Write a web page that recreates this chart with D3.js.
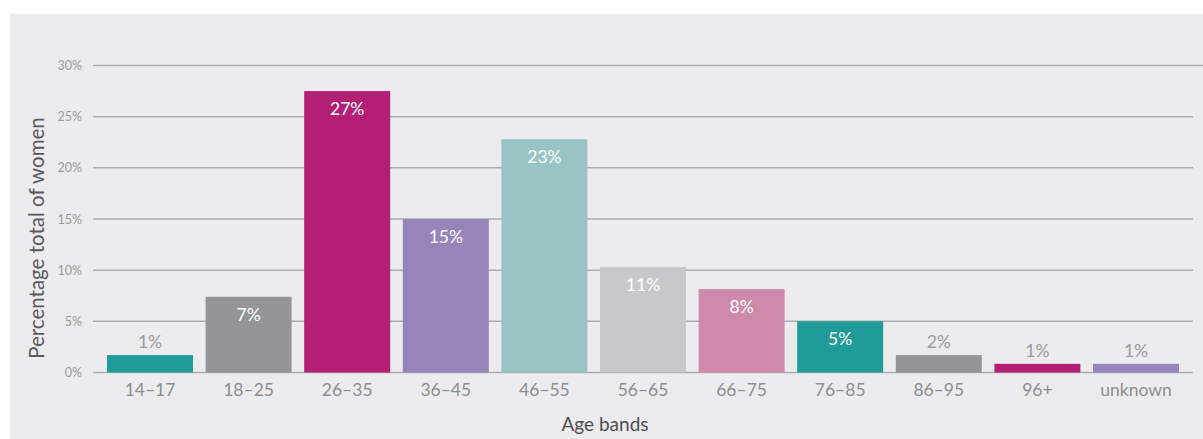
<!DOCTYPE html>
<html>
<head>
<meta charset="utf-8">
<script src="https://cdn.jsdelivr.net/npm/d3@7"></script>
<style>
  body { margin: 0; background: #fff; }
  text { font-family: Lato, "Open Sans", sans-serif; }
</style>
</head>
<body>
<svg width="1203" height="439"></svg>
<script>
// age bands and share of women (%)
var bands = ["14–17", "18–25", "26–35", "36–45", "46–55", "56–65", "66–75", "76–85", "86–95", "96+", "unknown"];
var values = [1.7, 7.4, 27.5, 15.0, 22.8, 10.3, 8.15, 5.0, 1.7, 0.85, 0.85];
var labels = ["1%", "7%", "27%", "15%", "23%", "11%", "8%", "5%", "2%", "1%", "1%"];
var colors = ["#1f9b99", "#939598", "#b31f74", "#9784bb", "#99c4c6", "#c7c8ca", "#cf8aab", "#1f9b99", "#939598", "#b31f74", "#9784bb"];
var yTicks = [0, 5, 10, 15, 20, 25, 30];

var svg = d3.select("svg");

svg.append("rect")
  .attr("x", 10).attr("y", 14)
  .attr("width", 1193).attr("height", 425)
  .attr("fill", "#ececee");

var x = d3.scaleBand().domain(bands).range([100.7, 1185.3]).paddingInner(0.128).paddingOuter(0.064),
  y = d3.scaleLinear().domain([0, 30]).range([372.5, 65.5]);

// gridlines
svg.append("g")
  .selectAll("line")
  .data(yTicks)
  .enter()
  .append("line")
  .attr("x1", 93)
  .attr("x2", (d) => (d === 30 ? 1203 : 1193))
  .attr("y1", (d) => y(d))
  .attr("y2", (d) => y(d))
  .attr("stroke", "#a9abae")
  .attr("stroke-width", 1.5);

var axis_y = d3.axisLeft(y).tickValues(yTicks).tickSize(0).tickPadding(0).tickFormat((d) => d + "%");
var gy = svg.append("g").attr("transform", "translate(82,0)").call(axis_y);
gy.select(".domain").remove();
gy.selectAll("text").attr("font-size", 12.5).attr("fill", "#9a9a9c").attr("font-family", "Lato, sans-serif");

var axis_x = d3.axisBottom(x).tickSize(0).tickPadding(0);
var gx = svg.append("g").attr("transform", "translate(0,384)").call(axis_x);
gx.select(".domain").remove();
gx.selectAll("text").attr("font-size", 17.5).attr("fill", "#8d8e90").attr("font-family", "Lato, sans-serif");

// bars
var rows = bands.map((b, i) => ({ band: b, value: values[i], label: labels[i], color: colors[i] }));

svg.append("g")
  .selectAll("rect")
  .data(rows)
  .enter()
  .append("rect")
  .attr("x", (d) => x(d.band))
  .attr("y", (d) => y(d.value))
  .attr("width", x.bandwidth())
  .attr("height", (d) => y(0) - y(d.value))
  .attr("fill", (d) => d.color);

// value labels: inside for tall bars, above for short ones
svg.append("g")
  .selectAll("text")
  .data(rows)
  .enter()
  .append("text")
  .attr("x", (d) => x(d.band) + x.bandwidth() / 2)
  .attr("y", (d) => (d.value > 4 ? y(d.value) + 24 : y(d.value) - 7))
  .attr("text-anchor", "middle")
  .attr("font-size", 17.5)
  .attr("fill", (d) => (d.value > 4 ? "#ffffff" : "#9a9a9c"))
  .text((d) => d.label);

svg.append("text")
  .attr("transform", "translate(44,238) rotate(-90)")
  .attr("text-anchor", "middle")
  .attr("font-size", 20.5)
  .attr("fill", "#58595b")
  .text("Percentage total of women");

svg.append("text")
  .attr("x", 605)
  .attr("y", 431)
  .attr("text-anchor", "middle")
  .attr("font-size", 19)
  .attr("fill", "#4d4d4f")
  .text("Age bands");
</script>
</body>
</html>
